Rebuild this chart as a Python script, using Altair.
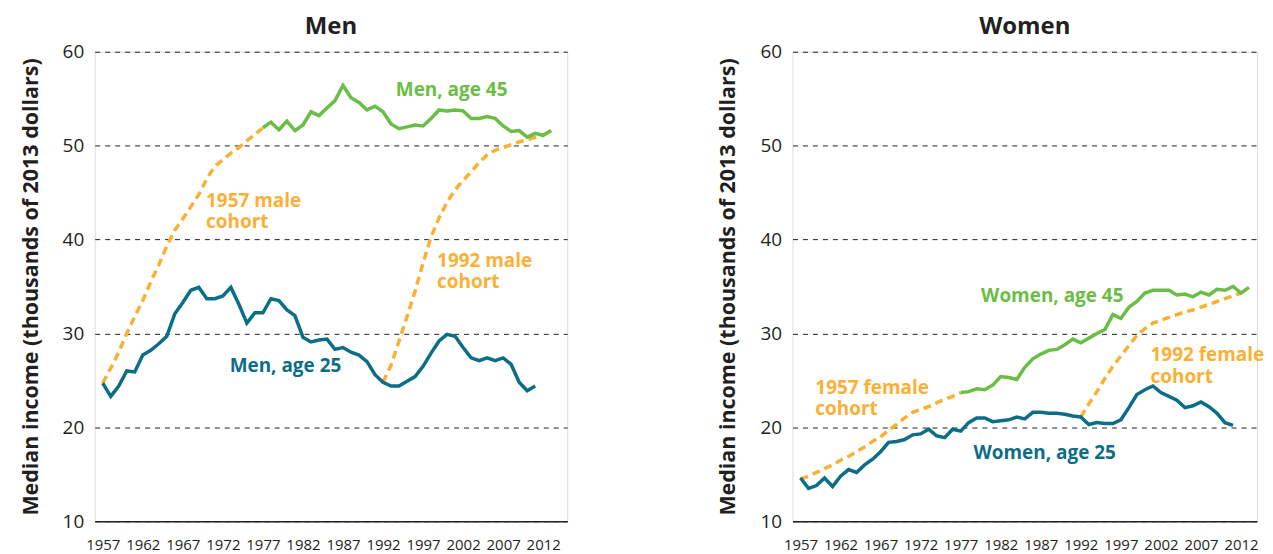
import altair as alt
import pandas as pd

FONT = "Open Sans"
GREEN = "#6abd45"
TEAL = "#0b6e86"
ORANGE = "#fbb034"
INK = "#231f20"

years_25 = list(range(1957, 2012))
years_45 = list(range(1977, 2014))
years_c57 = list(range(1957, 1978))
years_c92 = list(range(1992, 2013))

men_25 = [24.7, 23.3, 24.4, 26.0, 25.9, 27.7, 28.2, 28.9, 29.7, 32.1,
          33.3, 34.6, 34.9, 33.7, 33.7, 34.0, 34.9, 33.1, 31.1, 32.2,
          32.2, 33.7, 33.5, 32.5, 31.9, 29.6, 29.1, 29.3, 29.4, 28.3,
          28.5, 28.0, 27.7, 27.0, 25.6, 24.8, 24.4, 24.4, 24.9, 25.4,
          26.5, 27.9, 29.2, 29.9, 29.7, 28.5, 27.4, 27.1, 27.4, 27.1,
          27.4, 26.7, 24.8, 23.9, 24.4]
men_45 = [51.9, 52.5, 51.7, 52.6, 51.6, 52.2, 53.6, 53.2, 54.0, 54.8,
          56.4, 55.1, 54.6, 53.8, 54.2, 53.6, 52.3, 51.8, 52.0, 52.2,
          52.1, 52.9, 53.8, 53.7, 53.8, 53.7, 52.9, 52.9, 53.1, 52.9,
          52.1, 51.5, 51.6, 50.9, 51.3, 51.1, 51.6]
men_c57 = [24.7, 26.3, 28.0, 30.0, 31.8, 33.5, 35.5, 37.3, 39.3, 41.0,
           42.2, 43.5, 44.8, 46.5, 47.8, 48.5, 49.2, 49.8, 50.5, 51.2, 51.9]
men_c92 = [24.8, 26.6, 29.2, 31.8, 34.5, 37.5, 40.3, 42.3, 44.0, 45.3,
           46.3, 47.2, 48.2, 49.0, 49.5, 49.8, 50.1, 50.4, 50.6, 50.9, 51.1]

women_25 = [14.6, 13.5, 13.8, 14.6, 13.7, 14.8, 15.5, 15.2, 16.0, 16.6,
            17.4, 18.4, 18.5, 18.7, 19.2, 19.3, 19.8, 19.1, 18.9, 19.8,
            19.6, 20.5, 21.0, 21.0, 20.6, 20.7, 20.8, 21.1, 20.9, 21.6,
            21.6, 21.5, 21.5, 21.4, 21.2, 21.1, 20.3, 20.5, 20.4, 20.4,
            20.8, 22.1, 23.5, 24.0, 24.4, 23.7, 23.3, 22.9, 22.1, 22.3,
            22.7, 22.2, 21.5, 20.5, 20.2]
women_45 = [23.7, 23.8, 24.1, 24.0, 24.5, 25.4, 25.3, 25.1, 26.4, 27.3,
            27.8, 28.2, 28.3, 28.8, 29.4, 29.0, 29.5, 30.0, 30.4, 32.0,
            31.6, 32.8, 33.4, 34.3, 34.6, 34.6, 34.6, 34.1, 34.2, 33.9,
            34.4, 34.1, 34.7, 34.6, 35.0, 34.3, 34.9]
women_c57 = [14.5, 14.8, 15.2, 15.6, 16.0, 16.5, 16.9, 17.4, 17.9, 18.5,
             19.0, 19.7, 20.3, 21.0, 21.6, 21.9, 22.2, 22.6, 23.0, 23.3, 23.7]
women_c92 = [21.1, 22.5, 23.8, 25.2, 26.5, 27.6, 28.7, 29.8, 30.5, 31.1,
             31.4, 31.7, 32.0, 32.3, 32.5, 32.8, 33.1, 33.4, 33.7, 34.0, 34.3]

x_ticks = list(range(1957, 2013, 5))
y_ticks = [10, 20, 30, 40, 50, 60]

men_labels = ["Men, age 45", "1957 male\ncohort", "1992 male\ncohort", "Men, age 25"]
men_label_x = [1993.6, 1969.9, 1998.75, 1972.85]
men_label_y = [55.33, 43.47, 37.1, 25.85]
men_label_series = ["age45", "cohort", "cohort", "age25"]

women_labels = ["Women, age 45", "1957 female\ncohort", "1992 female\ncohort", "Women, age 25"]
women_label_x = [1979.55, 1958.85, 2000.7, 1978.6]
women_label_y = [33.39, 23.59, 27.02, 16.65]
women_label_series = ["age45", "cohort", "cohort", "age25"]


def series_df(years, values, series, group):
    return pd.DataFrame({"year": years, "value": values, "series": series, "group": group})


color_scale = alt.Scale(domain=["age25", "age45", "cohort"], range=[TEAL, GREEN, ORANGE])


def panel(title, s25, s45, c57, c92, lab, lx, ly, ls, width, xmax):
    solid = pd.concat([
        series_df(years_25, s25, "age25", "a25"),
        series_df(years_45, s45, "age45", "a45"),
    ])
    dashed = pd.concat([
        series_df(years_c57, c57, "cohort", "c57"),
        series_df(years_c92, c92, "cohort", "c92"),
    ])
    labels = pd.DataFrame({"label": lab, "year": lx, "value": ly, "series": ls})

    x = alt.X("year:Q", scale=alt.Scale(domain=[1956, xmax], nice=False, zero=False),
              axis=alt.Axis(values=x_ticks, format="d", title=None, grid=False,
                            ticks=False, labelFontSize=15, labelPadding=16,
                            labelColor=INK, labelFont=FONT,
                            domainColor=INK, domainWidth=1.5, labelFlush=False))
    y = alt.Y("value:Q", scale=alt.Scale(domain=[10, 60], nice=False, zero=False),
              axis=alt.Axis(values=y_ticks, title="Median income (thousands of 2013 dollars)",
                            grid=True, gridDash=[5, 5], gridColor=INK, gridWidth=1,
                            domain=False, ticks=False, labelFontSize=19,
                            labelPadding=11, labelColor=INK, labelFont=FONT,
                            titleFont=FONT, titleFontSize=21.5, titleFontWeight="bold",
                            titleColor=INK, titlePadding=20))
    color = alt.Color("series:N", scale=color_scale, legend=None)

    dash_layer = alt.Chart(dashed).mark_line(strokeWidth=3.5, strokeDash=[8, 5]).encode(
        x=x, y=y, color=color, detail="group:N")
    solid_layer = alt.Chart(solid).mark_line(strokeWidth=3.5).encode(
        x=x, y=y, color=color, detail="group:N")
    text_layer = alt.Chart(labels).mark_text(
        align="left", baseline="alphabetic", font=FONT, fontSize=19, fontWeight="bold",
        lineBreak="\n", lineHeight=21.6
    ).encode(x=x, y=y, color=color, text="label:N")

    return alt.layer(dash_layer, solid_layer, text_layer).properties(
        width=width, height=471,
        title=alt.TitleParams(title, font=FONT, fontSize=24, fontWeight="bold",
                              color=INK, anchor="middle", offset=4))


left = panel("Men", men_25, men_45, men_c57, men_c92,
             men_labels, men_label_x, men_label_y, men_label_series, 474, 2015)
right = panel("Women", women_25, women_45, women_c57, women_c92,
              women_labels, women_label_x, women_label_y, women_label_series, 466, 2014)

chart = alt.hconcat(left, right, spacing=149).properties(
    padding={"left": 11, "top": 5, "right": 0, "bottom": 0}
).configure_view(stroke=None).configure(background="white")

chart.save("out.html", embed_options={"renderer": "svg", "actions": False})
